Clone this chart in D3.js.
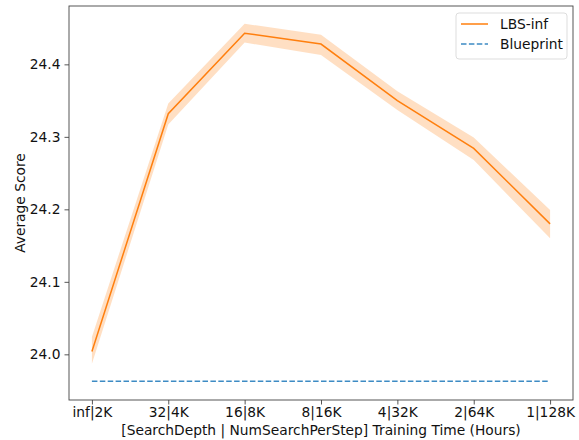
<!DOCTYPE html>
<style>
    body { margin: 0; background: #fff; }
    text { font-family: "DejaVu Sans", sans-serif; }
</style>
<body>
<script src="https://d3js.org/d3.v7.min.js"></script>
<script>
    var categories = ["inf|2K", "32|4K", "16|8K", "8|16K", "4|32K", "2|64K", "1|128K"];
    var lbsMean = [24.004, 24.332, 24.443, 24.428, 24.350, 24.284, 24.180];
    var lbsLow = [23.987, 24.317, 24.430, 24.413, 24.337, 24.268, 24.160];
    var lbsHigh = [24.024, 24.346, 24.456, 24.441, 24.363, 24.299, 24.199];
    var blueprint = [23.963, 23.963, 23.963, 23.963, 23.963, 23.963, 23.963];
    var yTicks = [24.0, 24.1, 24.2, 24.3, 24.4];

    var width = 579, height = 440;
    var margin = {top: 6, right: 6, bottom: 40, left: 69};
    var fs = 13.8;

    var svg = d3.select("body").append("svg")
        .attr("width", width)
        .attr("height", height);

    var x = d3.scaleLinear()
        .domain([-0.3, categories.length - 1 + 0.3])
        .range([margin.left, width - margin.right]);

    var y = d3.scaleLinear()
        .domain([23.937, 24.4805])
        .range([height - margin.bottom, margin.top]);

    var data = categories.map(function(c, i) {
        return {i: i, mean: lbsMean[i], lo: lbsLow[i], hi: lbsHigh[i], bp: blueprint[i]};
    });

    // band
    svg.append("path")
        .datum(data)
        .attr("fill", "#ff7f0e")
        .attr("fill-opacity", 0.25)
        .attr("d", d3.area()
            .x(function(d) { return x(d.i); })
            .y0(function(d) { return y(d.lo); })
            .y1(function(d) { return y(d.hi); }));

    svg.append("path")
        .datum(data)
        .attr("fill", "none")
        .attr("stroke", "#ff7f0e")
        .attr("stroke-width", 1.5)
        .attr("d", d3.line()
            .x(function(d) { return x(d.i); })
            .y(function(d) { return y(d.mean); }));

    svg.append("path")
        .datum(data)
        .attr("fill", "none")
        .attr("stroke", "#3d8bc4")
        .attr("stroke-width", 1.5)
        .attr("stroke-dasharray", "5.5,2.4")
        .attr("d", d3.line()
            .x(function(d) { return x(d.i); })
            .y(function(d) { return y(d.bp); }));

    // frame
    svg.append("rect")
        .attr("x", margin.left)
        .attr("y", margin.top)
        .attr("width", width - margin.left - margin.right)
        .attr("height", height - margin.top - margin.bottom)
        .attr("fill", "none")
        .attr("stroke", "#444")
        .attr("stroke-width", 0.9);

    var xAxis = svg.append("g")
        .attr("transform", "translate(0," + (height - margin.bottom) + ")")
        .call(d3.axisBottom(x)
            .tickValues(d3.range(categories.length))
            .tickFormat(function(d) { return categories[d]; })
            .tickSize(4.5).tickPadding(3));

    var yAxis = svg.append("g")
        .attr("transform", "translate(" + margin.left + ",0)")
        .call(d3.axisLeft(y)
            .tickValues(yTicks)
            .tickFormat(d3.format(".1f"))
            .tickSize(4.5).tickPadding(4));

    [xAxis, yAxis].forEach(function(g) {
        g.select(".domain").remove();
        g.selectAll("line").attr("stroke", "#444").attr("stroke-width", 0.9);
        g.selectAll("text").attr("fill", "#111").attr("font-size", fs)
            .attr("font-family", "DejaVu Sans");
    });

    svg.append("text")
        .attr("x", (margin.left + width - margin.right) / 2)
        .attr("y", 435)
        .attr("text-anchor", "middle")
        .attr("font-size", fs)
        .attr("fill", "#111")
        .text("[SearchDepth | NumSearchPerStep] Training Time (Hours)");

    svg.append("text")
        .attr("transform", "translate(25," + ((margin.top + height - margin.bottom) / 2) + ") rotate(-90)")
        .attr("text-anchor", "middle")
        .attr("font-size", fs)
        .attr("fill", "#111")
        .text("Average Score");

    // legend
    var legendItems = [
        {name: "LBS-inf", color: "#ff7f0e", dash: null},
        {name: "Blueprint", color: "#3d8bc4", dash: "5.5,2.4"}
    ];
    var lg = svg.append("g").attr("transform", "translate(456,13)");
    lg.append("rect")
        .attr("width", 111)
        .attr("height", 46)
        .attr("rx", 3)
        .attr("fill", "#fff")
        .attr("fill-opacity", 0.8)
        .attr("stroke", "#ddd");
    var li = lg.selectAll("g.item")
        .data(legendItems)
        .enter().append("g")
        .attr("class", "item")
        .attr("transform", function(d, i) { return "translate(0," + (11 + i * 20) + ")"; });
    li.append("line")
        .attr("x1", 5).attr("x2", 32)
        .attr("stroke", function(d) { return d.color; })
        .attr("stroke-width", 1.5)
        .attr("stroke-dasharray", function(d) { return d.dash; });
    li.append("text")
        .attr("x", 44)
        .attr("dy", "0.35em")
        .attr("font-size", fs)
        .attr("fill", "#111")
        .text(function(d) { return d.name; });
</script>
</body>
